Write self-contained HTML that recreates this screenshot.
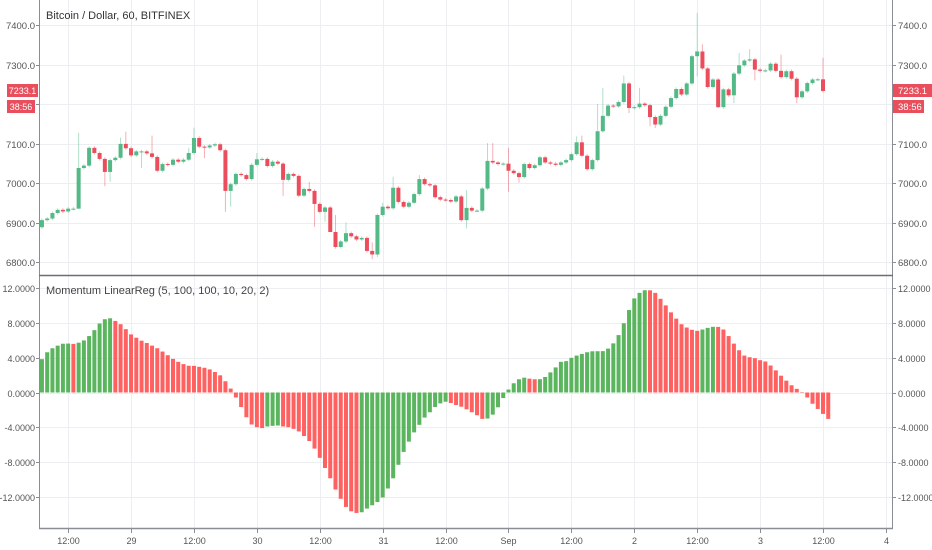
<!DOCTYPE html>
<html><head><meta charset="utf-8">
<style>
html,body{margin:0;padding:0;background:#fff;}
svg{display:block;font-family:"Liberation Sans",sans-serif;}
</style></head>
<body>
<svg id="chart" width="932" height="550" viewBox="0 0 932 550" xmlns="http://www.w3.org/2000/svg">
<rect x="0" y="0" width="932" height="550" fill="#ffffff"/>
<g id="grid"></g>
<g id="candles"></g>
<g id="hist"></g>
<line x1="39.5" y1="0" x2="39.5" y2="529" stroke="#8a8d93" stroke-width="1"/>
<line x1="892.5" y1="0" x2="892.5" y2="529" stroke="#8a8d93" stroke-width="1"/>
<line x1="39" y1="275.5" x2="893" y2="275.5" stroke="#6b6e75" stroke-width="1.5"/>
<line x1="39" y1="528.5" x2="893" y2="528.5" stroke="#8a8d93" stroke-width="1.5"/>
<g id="axes" font-size="9.5" fill="#555"></g>
<text x="46" y="19" font-size="11" fill="#333">Bitcoin / Dollar, 60, BITFINEX</text>
<text x="46" y="294" font-size="11" fill="#444">Momentum LinearReg (5, 100, 100, 10, 20, 2)</text>
<g>
<rect x="7" y="84" width="31" height="13" fill="#e84e5c"/><text x="22.5" y="94" font-size="9" fill="#fff" text-anchor="middle">7233.1</text>
<rect x="7" y="100" width="28" height="13" fill="#e84e5c"/><text x="21" y="110" font-size="9" fill="#fff" text-anchor="middle">38:56</text>
</g>
<g>
<rect x="893" y="84" width="39" height="13" fill="#e84e5c"/><text x="898" y="94" font-size="9.5" fill="#fff">7233.1</text>
<rect x="893" y="100" width="31" height="13" fill="#e84e5c"/><text x="898" y="110" font-size="9.5" fill="#fff">38:56</text>
</g>
</svg>
<script>
const closes = [6906,6910,6924,6932,6928,6935,6935,7038,7044,7089,7076,7061,7028,7058,7064,7099,7088,7070,7080,7080,
7075,7066,7031,7048,7046,7059,7054,7059,7076,7114,7092,7090,7095,7098,7083,6980,6997,7023,7020,7010,
7046,7060,7061,7043,7054,7049,7008,7023,7018,6968,6985,6980,6947,6927,6938,6876,6838,6852,6873,6865,
6857,6861,6828,6819,6919,6940,6936,6988,6952,6940,6950,6972,7010,6997,6994,6964,6958,6957,6953,6966,
6906,6937,6930,6930,6986,7056,7052,7048,7049,7031,7025,7015,7048,7038,7045,7065,7052,7049,7046,7052,
7058,7073,7103,7069,7035,7058,7131,7170,7196,7194,7205,7252,7190,7192,7201,7197,7167,7148,7170,7193,
7215,7238,7224,7252,7321,7333,7290,7243,7262,7192,7237,7222,7277,7298,7310,7313,7287,7284,7285,7302,
7284,7268,7283,7264,7217,7232,7253,7262,7262.5,7233];
const firstOpen = 6888;
const highOverrides = {7:7127,15:7115,16:7130,21:7120,28:7089,29:7140,41:7076,51:7003,56:6919,58:6900,63:6850,65:6950,67:7016,72:7020,81:6982,85:7101,86:7101,89:7089,102:7118,103:7120,106:7200,107:7241,111:7272,114:7241,125:7430,126:7351,133:7329,135:7339,141:7325,149:7317};
const lowOverrides = {7:6995,12:6992,13:7003,19:7038,31:7063,35:6927,36:6940,46:6967,52:6889,54:6902,55:6885,63:6807,64:6813,81:6885,89:6978,91:7001,112:7177,116:7144,117:7139,125:7270,129:7190,132:7202,136:7260,144:7202};
const momentum = [3.83,4.62,5.08,5.38,5.6,5.62,5.58,5.72,5.98,6.48,7.16,7.92,8.41,8.52,8.22,7.84,7.27,6.67,6.29,5.95,
5.68,5.38,5.08,4.7,4.28,3.86,3.52,3.26,3.07,3.06,2.95,2.84,2.65,2.35,1.97,1.29,0.45,-0.57,-1.67,-2.84,
-3.67,-3.98,-4.09,-3.9,-3.83,-3.79,-3.9,-3.98,-4.17,-4.47,-5.0,-5.57,-6.44,-7.5,-8.67,-9.85,-11.14,-12.2,-13.14,-13.64,
-13.83,-13.75,-13.33,-12.95,-12.58,-12.05,-11.02,-9.85,-8.3,-6.82,-5.64,-4.58,-3.71,-2.88,-2.27,-1.67,-1.25,-1.06,-1.21,-1.44,
-1.63,-1.93,-2.27,-2.61,-3.03,-2.99,-2.54,-1.7,-0.64,0.34,1.06,1.52,1.7,1.59,1.52,1.53,1.78,2.31,2.88,3.52,
3.6,3.98,4.24,4.43,4.62,4.73,4.74,4.75,5.04,5.64,6.59,7.95,9.47,10.8,11.44,11.74,11.73,11.44,10.76,10.0,
9.2,8.48,7.84,7.46,7.2,7.08,7.23,7.42,7.54,7.53,7.23,6.48,5.61,4.85,4.24,4.05,3.94,3.71,3.56,3.1,
2.54,1.93,1.36,0.83,0.42,-0.05,-0.57,-1.29,-1.89,-2.46,-3.03];
const priceTicks = [6800,6900,7000,7100,7200,7300,7400];
const priceTickLabels = ["6800.0","6900.0","7000.0","7100.0","","7300.0","7400.0"];
const momTicks = [-12,-8,-4,0,4,8,12];
const momTickLabels = ["-12.0000","-8.0000","-4.0000","0.0000","4.0000","8.0000","12.0000"];
const timeTickIdx = [5,17,29,41,53,65,77,89,101,113,125,137,149,161];
const timeTickLabels = ["12:00","29","12:00","30","12:00","31","12:00","Sep","12:00","2","12:00","3","12:00","4"];

const NS="http://www.w3.org/2000/svg";
const step=5.242;
function xOf(i){return 823-(149-i)*step;}
function yPrice(p){return 25+(7400-p)*0.395;}
function yMom(v){return 392.5-v*8.71;}
function mk(tag,attrs,parent){const e=document.createElementNS(NS,tag);for(const k in attrs)e.setAttribute(k,attrs[k]);parent.appendChild(e);return e;}

const grid=document.getElementById('grid');
const axes=document.getElementById('axes');
priceTicks.forEach((p,k)=>{
  const y=Math.round(yPrice(p))+0.5;
  const l=mk('line',{x1:40,x2:892,y1:y,y2:y,stroke:'#eceef2'},grid);
  
  
  if(priceTickLabels[k]){
    const t1=mk('text',{x:35,y:y+3.5,'text-anchor':'end'},axes);t1.textContent=priceTickLabels[k];
    
    
    const t2=mk('text',{x:898,y:y+3.5},axes);t2.textContent=priceTickLabels[k];
    
    
  }
  mk('line',{x1:36,x2:40,y1:y,y2:y,stroke:'#8a8d93'},axes);
  mk('line',{x1:892,x2:896,y1:y,y2:y,stroke:'#8a8d93'},axes);
});
momTicks.forEach((v,k)=>{
  const y=Math.round(yMom(v))+0.5;
  const l=mk('line',{x1:40,x2:892,y1:y,y2:y,stroke:'#eceef2'},grid);
  
  
  const t1=mk('text',{x:35,y:y+3.5,'text-anchor':'end','font-size':'9'},axes);t1.textContent=momTickLabels[k];
  
  
  const t2=mk('text',{x:898,y:y+3.5,'font-size':'9'},axes);t2.textContent=momTickLabels[k];
  
  
  mk('line',{x1:36,x2:40,y1:y,y2:y,stroke:'#8a8d93'},axes);
  mk('line',{x1:892,x2:896,y1:y,y2:y,stroke:'#8a8d93'},axes);
});
timeTickIdx.forEach((i,k)=>{
  const x=Math.round(xOf(i))+0.5;
  if(x<892){
    const l=mk('line',{x1:x,x2:x,y1:0,y2:528,stroke:'#eceef2'},grid);
    
    
  }
  mk('line',{x1:x,x2:x,y1:529,y2:533,stroke:'#8a8d93'},axes);
  const t=mk('text',{x:x,y:544,'text-anchor':'middle','font-size':'9'},axes);t.textContent=timeTickLabels[k];
  
  
});

const cg=document.getElementById('candles');
closes.forEach((c,i)=>{
  const o=i===0?firstOpen:closes[i-1];
  const up=c>=o;
  const col=up?'#53b987':'#eb4d5c';
  const hi=highOverrides[i]!==undefined?highOverrides[i]:Math.max(o,c)+4;
  const lo=lowOverrides[i]!==undefined?lowOverrides[i]:Math.min(o,c)-4;
  const x=xOf(i);
  const g=mk('g',{},cg);
  
  
  mk('line',{x1:x,x2:x,y1:yPrice(hi),y2:yPrice(lo),stroke:col,'stroke-opacity':0.45,'stroke-width':1},g);
  const yt=yPrice(Math.max(o,c)),yb=yPrice(Math.min(o,c));
  mk('rect',{x:x-2,y:yt,width:4,height:Math.max(1,yb-yt),fill:col},g);
});

const hg=document.getElementById('hist');
momentum.forEach((v,i)=>{
  const rising=i===0||v>momentum[i-1];
  const col=rising?'#4caf50':'#ff5252';
  const x=xOf(i);
  const y0=yMom(0),y1=yMom(v);
  const r=mk('rect',{x:x-2,y:Math.min(y0,y1),width:4,height:Math.max(0.5,Math.abs(y1-y0)),fill:col,'fill-opacity':0.92},hg);
  
  
});
</script>
</body></html>
